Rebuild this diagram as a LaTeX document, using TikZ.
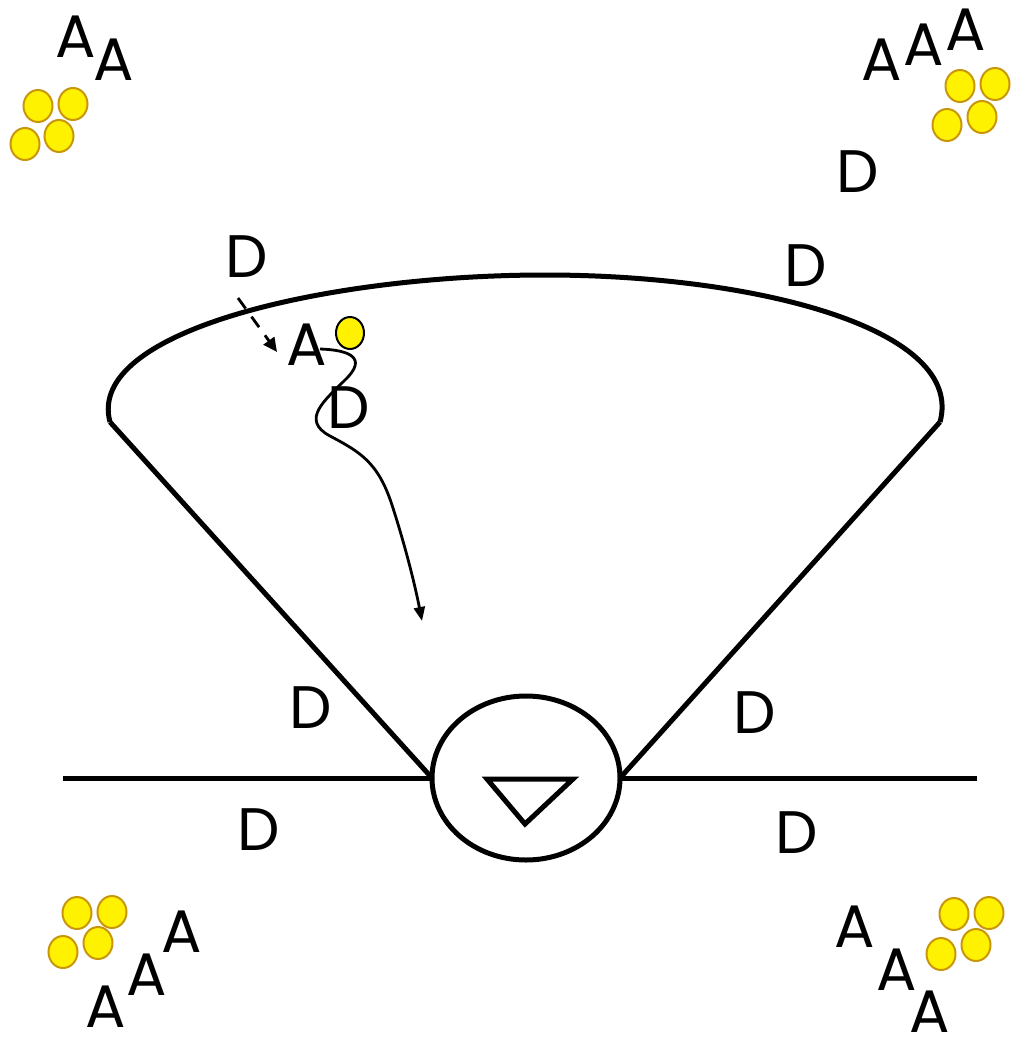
\documentclass[tikz,border=0pt]{standalone}
\usepackage{fontspec}
\setmainfont{Poppins}
\usetikzlibrary{arrows.meta,shapes.geometric}
\begin{document}
\begin{tikzpicture}[x=1pt,y=-1pt,
  lbl/.style={inner sep=0pt, font=\fontsize{60}{62}\selectfont},
  coin/.style={draw=coinedge, fill=yellow, line width=2pt, ellipse, minimum width=29pt, minimum height=32pt, inner sep=0pt},
  thick line/.style={line width=5pt},
]
\definecolor{coinedge}{HTML}{C8960A}
\useasboundingbox (0,0) rectangle (1012,1046);
% corner groups
\node[lbl] (tla1) at (76,37) {A};
\node[lbl] (tla2) at (114,60) {A};
\node[coin] (tlc1) at (38,106) {};
\node[coin] (tlc2) at (73,104) {};
\node[coin] (tlc3) at (59,136) {};
\node[coin] (tlc4) at (25,144) {};

\node[lbl] (tra1) at (882,60) {A};
\node[lbl] (tra2) at (924,45) {A};
\node[lbl] (tra3) at (966,30) {A};
\node[coin] (trc1) at (960,86) {};
\node[coin] (trc2) at (995,84) {};
\node[coin] (trc3) at (982,117) {};
\node[coin] (trc4) at (947,125) {};

\node[coin] (blc1) at (77,913) {};
\node[coin] (blc2) at (112,912) {};
\node[coin] (blc3) at (98,943) {};
\node[coin] (blc4) at (63,952) {};
\node[lbl] (bla1) at (106,1007) {A};
\node[lbl] (bla2) at (147,975) {A};
\node[lbl] (bla3) at (182,932) {A};

\node[coin] (brc1) at (954,914) {};
\node[coin] (brc2) at (989,913) {};
\node[coin] (brc3) at (976,945) {};
\node[coin] (brc4) at (941,954) {};
\node[lbl] (bra1) at (855,927) {A};
\node[lbl] (bra2) at (897,970) {A};
\node[lbl] (bra3) at (930,1012) {A};

% D labels
\node[lbl] (d1) at (858,172) {D};
\node[lbl] (d2) at (806,266) {D};
\node[lbl] (d3) at (247,257) {D};
\node[lbl] (d4) at (349,408) {D};
\node[lbl] (d5) at (311,708) {D};
\node[lbl] (d6) at (755,713) {D};
\node[lbl] (d7) at (259,830) {D};
\node[lbl] (d8) at (797,833) {D};

% fan shape
\coordinate (al) at (110,422);
\coordinate (ar) at (940,422);
\coordinate (bl) at (432,778);
\coordinate (br) at (620,778);
\coordinate (hl) at (63,778);
\coordinate (hr) at (977,778);
\draw[thick line] (al) .. controls (85,330) and (330,275) .. (545,275) .. controls (760,275) and (965,330) .. (ar);
\draw[thick line] (al) -- (bl);
\draw[thick line] (ar) -- (br);
\draw[thick line] (hl) -- (bl);
\draw[thick line] (br) -- (hr);
\node[draw, thick line, ellipse, minimum width=188pt, minimum height=164pt, inner sep=0pt] (valve) at (526,778) {};
\coordinate (t1) at (487,779);
\coordinate (t2) at (573,779);
\coordinate (t3) at (525,824);
\draw[thick line, line join=miter] (t1) -- (t2) -- (t3) -- cycle;

% inner items
\node[lbl] (ia) at (307,345) {A};
\node[draw=black, fill=yellow, line width=2pt, ellipse, minimum width=28pt, minimum height=32pt, inner sep=0pt] (ic) at (350,333) {};
\coordinate (ds) at (238,298);
\coordinate (de) at (277,352);
\draw[line width=2.8pt, dash pattern=on 13pt off 10pt, -{Triangle[length=14pt,width=13pt]}] (ds) -- (de);
\coordinate (ws) at (320,349);
\coordinate (we) at (422,621);
\draw[line width=2.8pt, -{Triangle[length=14pt,width=11pt]}] (ws) .. controls (350,350) and (368,358) .. (345,380) .. controls (325,400) and (300,420) .. (330,436) .. controls (360,452) and (378,462) .. (392,505) .. controls (405,545) and (415,585) .. (we);
\end{tikzpicture}
\end{document}
